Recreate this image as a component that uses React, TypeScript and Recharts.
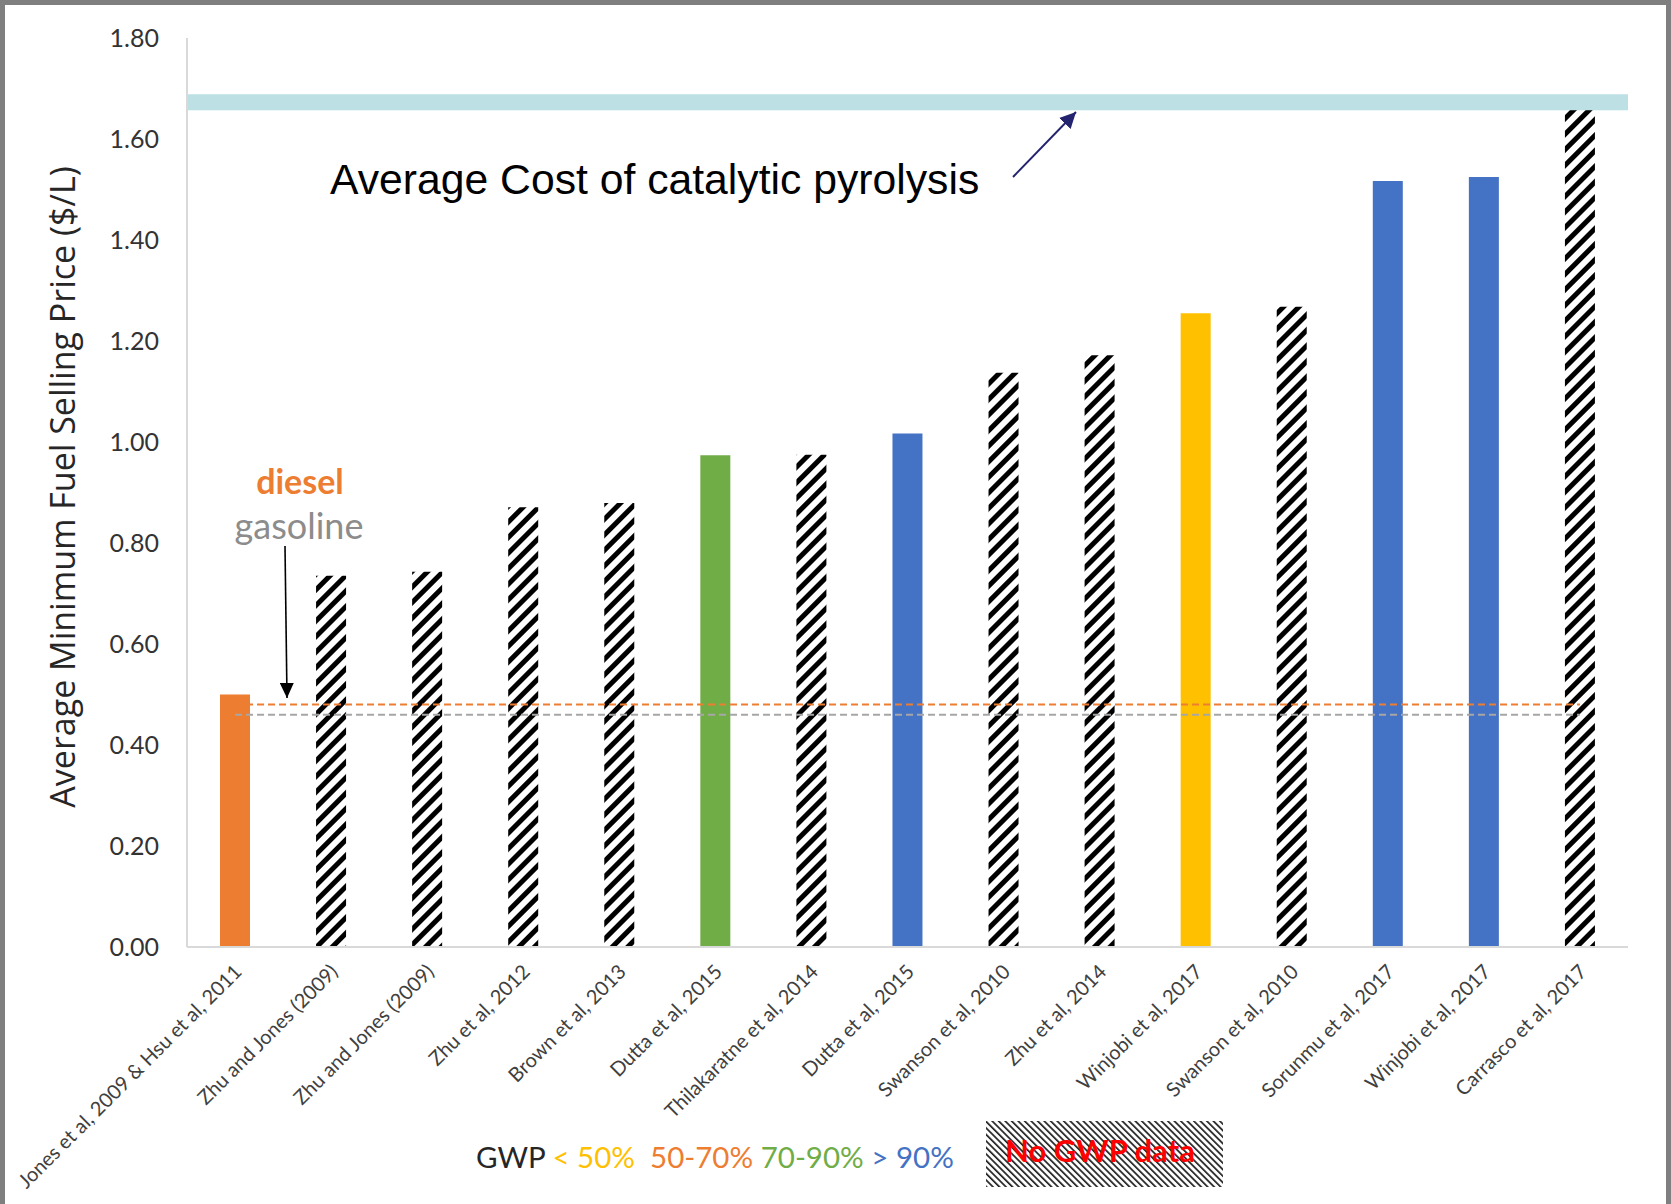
import { Bar, BarChart, Cell, ReferenceLine, XAxis, YAxis } from "recharts";

const studies = [
  "Jones et al, 2009 & Hsu et al, 2011",
  "Zhu and Jones (2009)",
  "Zhu and Jones (2009)",
  "Zhu et al, 2012",
  "Brown et al, 2013",
  "Dutta et al, 2015",
  "Thilakaratne et al, 2014",
  "Dutta et al, 2015",
  "Swanson et al, 2010",
  "Zhu et al, 2014",
  "Winjobi et al, 2017",
  "Swanson et al, 2010",
  "Sorunmu et al, 2017",
  "Winjobi et al, 2017",
  "Carrasco et al, 2017",
];

const priceUsdPerL = [
  0.5, 0.735, 0.743, 0.871, 0.879, 0.974, 0.975, 1.017, 1.137, 1.172, 1.255,
  1.268, 1.517, 1.525, 1.66,
];

// GWP reduction class per study ("none" = no GWP data)
const gwpClass = [
  "50-70", "none", "none", "none", "none", "70-90", "none", ">90", "none",
  "none", "<50", "none", ">90", ">90", "none",
];

const yTicks = [0, 0.2, 0.4, 0.6, 0.8, 1.0, 1.2, 1.4, 1.6, 1.8];

const catalyticPyrolysisAvg = 1.673;
const dieselPrice = 0.48;
const gasolinePrice = 0.46;

const gwpColors: Record<string, string> = {
  "<50": "#FFC000",
  "50-70": "#ED7D31",
  "70-90": "#70AD47",
  ">90": "#4472C4",
  none: "url(#hatchBar)",
};

const legendParts = [
  { text: "GWP ", color: "#262626" },
  { text: "< 50%  ", color: "#FFC000" },
  { text: "50-70% ", color: "#ED7D31" },
  { text: "70-90% ", color: "#70AD47" },
  { text: "> 90%", color: "#4472C4" },
];

const data = studies.map((s, i) => ({ idx: i, study: s, price: priceUsdPerL[i] }));

const frameStroke = { stroke: "#D9D9D9", strokeWidth: 2 };

function StudyTick({ x, y, payload }: any) {
  const ax = x + 8;
  const ay = y + 26;
  return (
    <text
      x={ax}
      y={ay}
      transform={`rotate(-45 ${ax} ${ay})`}
      textAnchor="end"
      fontFamily="Lato"
      fontSize={20}
      fill="#404040"
    >
      {studies[payload.value]}
    </text>
  );
}

export default function App() {
  return (
    <div style={{ position: "absolute", left: 0, top: 0, width: 1671, height: 1204, background: "#fff", overflow: "hidden" }}>
      <BarChart
        width={1671}
        height={1204}
        data={data}
        margin={{ top: 38, right: 43, bottom: 0, left: 0 }}
      >
        <defs>
          <pattern id="hatchBar" patternUnits="userSpaceOnUse" width={11} height={11} patternTransform="rotate(45)">
            <rect width={11} height={11} fill="#fff" />
            <rect width={5} height={11} fill="#000" />
          </pattern>
        </defs>
        <XAxis
          dataKey="idx"
          type="category"
          height={257}
          tickLine={false}
          tickSize={0}
          tickMargin={0}
          axisLine={frameStroke}
          tick={<StudyTick />}
          interval={0}
        />
        <XAxis
          xAxisId="frame"
          dataKey="idx"
          orientation="top"
          height={0}
          tick={false}
          tickLine={false}
          axisLine={frameStroke}
        />
        <YAxis
          width={187}
          domain={[0, 1.8]}
          ticks={yTicks}
          tickFormatter={(v) => v.toFixed(2)}
          tickLine={false}
          tickSize={0}
          tickMargin={28}
          axisLine={frameStroke}
          tick={{ fontFamily: "Lato", fontSize: 25, fill: "#333" }}
        />
        <YAxis
          yAxisId="frame"
          orientation="right"
          width={0}
          domain={[0, 1.8]}
          tick={false}
          tickLine={false}
          axisLine={frameStroke}
        />
        <Bar dataKey="price" barSize={30} isAnimationActive={false}>
          {data.map((d, i) => (
            <Cell key={d.idx} fill={gwpColors[gwpClass[i]]} />
          ))}
        </Bar>
        <ReferenceLine
          segment={[{ x: 0, y: dieselPrice }, { x: studies.length - 1, y: dieselPrice }]}
          stroke="#ED7D31"
          strokeWidth={2}
          strokeDasharray="7 4"
        />
        <ReferenceLine
          segment={[{ x: 0, y: gasolinePrice }, { x: studies.length - 1, y: gasolinePrice }]}
          stroke="#A6A6A6"
          strokeWidth={2}
          strokeDasharray="7 4"
        />
        <ReferenceLine y={catalyticPyrolysisAvg} stroke="#BDE0E4" strokeWidth={16} />
      </BarChart>

      <svg
        width={1671}
        height={1204}
        style={{ position: "absolute", left: 0, top: 0, pointerEvents: "none" }}
      >
        <defs>
          <pattern id="hatchLegend" patternUnits="userSpaceOnUse" width={4.6} height={4.6} patternTransform="rotate(-45)">
            <rect width={4.6} height={4.6} fill="#fff" />
            <rect width={1.7} height={4.6} fill="#222" />
          </pattern>
          <marker id="navyHead" markerUnits="userSpaceOnUse" markerWidth={18} markerHeight={16} refX={16} refY={8} orient="auto">
            <path d="M0,0 L16,8 L0,16 Z" fill="#23236F" />
          </marker>
          <marker id="blackHead" markerUnits="userSpaceOnUse" markerWidth={16} markerHeight={14} refX={15} refY={7} orient="auto">
            <path d="M0,0 L15,7 L0,14 Z" fill="#000" />
          </marker>
        </defs>

        {/* page frame */}
        <rect x={0} y={0} width={1671} height={5} fill="#7F7F7F" />
        <rect x={0} y={0} width={5} height={1204} fill="#7F7F7F" />
        <rect x={1666} y={0} width={5} height={1204} fill="#7F7F7F" />

        <text
          x={62}
          y={487}
          transform="rotate(-90 62 487)"
          textAnchor="middle"
          dominantBaseline="central"
          fontFamily="Open Sans"
          fontSize={34}
          fill="#262626"
        >
          Average Minimum Fuel Selling Price ($/L)
        </text>

        <text x={330} y={194} fontFamily="Liberation Sans" fontSize={42.7} fill="#000">
          Average Cost of catalytic pyrolysis
        </text>
        <line x1={1013} y1={177} x2={1076} y2={112} stroke="#23236F" strokeWidth={2} markerEnd="url(#navyHead)" />

        <text x={300} y={494} textAnchor="middle" fontFamily="Lato" fontWeight="bold" fontSize={34} fill="#ED7D31">
          diesel
        </text>
        <text x={299} y={539} textAnchor="middle" fontFamily="Lato" fontSize={36} fill="#8C8C8C">
          gasoline
        </text>
        <line x1={285} y1={546} x2={287} y2={698} stroke="#000" strokeWidth={1.6} markerEnd="url(#blackHead)" />

        <text x={476} y={1168} fontFamily="Lato" fontSize={29.5} style={{ whiteSpace: "pre" }}>
          {legendParts.map((p) => (
            <tspan key={p.text} fill={p.color}>
              {p.text}
            </tspan>
          ))}
        </text>
        <rect x={986} y={1121} width={237} height={66} fill="url(#hatchLegend)" />
        <text x={1005} y={1162} fontFamily="Lato" fontWeight="bold" fontSize={31} fill="#FF0000">
          No GWP data
        </text>
      </svg>
    </div>
  );
}
